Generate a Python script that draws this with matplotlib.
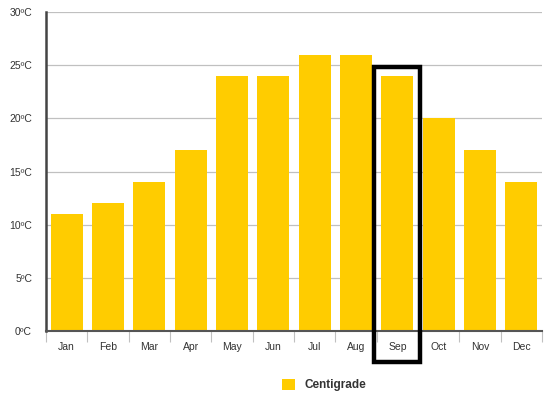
import matplotlib
matplotlib.use("Agg")
import matplotlib.pyplot as plt
import matplotlib.patches as mpatches
import numpy as np

# data
months = ['Jan', 'Feb', 'Mar', 'Apr', 'May', 'Jun', 'Jul', 'Aug', 'Sep', 'Oct', 'Nov', 'Dec']
temps = [11, 12, 14, 17, 24, 24, 26, 26, 24, 20, 17, 14]
yticks = [0, 5, 10, 15, 20, 25, 30]
highlight = 'Sep'

plt.rcParams['font.family'] = ['Liberation Sans', 'DejaVu Sans']

fig = plt.figure(figsize=(5.46, 3.96), dpi=100)
ax = fig.add_axes([46/546, 1-331/396, 496/546, 319/396])

x = np.arange(len(months))
ax.bar(x, temps, width=0.78, color='#FFCC00', zorder=2, label='Centigrade')

ax.set_xlim(-0.5, len(months)-0.5)
ax.set_ylim(0, 30)
ax.set_yticks(yticks)
ax.set_yticklabels([str(v)+'ºC' for v in yticks], fontsize=7.5, color='#333333')
ax.set_xticks(x)
ax.set_xticklabels(months, fontsize=7.5, color='#333333')
ax.set_xticks(np.arange(len(months)+1)-0.5, minor=True)
ax.tick_params(axis='x', which='major', length=0, pad=8)
ax.tick_params(axis='x', which='minor', length=8, color='#C0C0C0', width=0.8)
ax.tick_params(axis='y', length=0, pad=10)

ax.yaxis.grid(True, color='#C0C0C0', linewidth=0.9, zorder=0)
ax.set_axisbelow(True)
for s in ['top', 'right']:
    ax.spines[s].set_visible(False)
ax.spines['left'].set_color('#444444')
ax.spines['left'].set_linewidth(1.8)
ax.spines['bottom'].set_color('#555555')
ax.spines['bottom'].set_linewidth(1.5)

# highlight box around the chosen month
i = months.index(highlight)
box = mpatches.Rectangle((i-0.56, -2.9), 1.12, temps[i]+0.8+2.9, fill=False,
                         edgecolor='black', linewidth=3.2, clip_on=False, zorder=5)
ax.add_patch(box)

leg = fig.legend(loc='lower center', bbox_to_anchor=(0.594, -0.015), frameon=False,
                 prop={'size': 8.5, 'weight': 'bold'}, handlelength=1.1, handleheight=1.1)
for t in leg.get_texts():
    t.set_color('#333333')

fig.savefig('out.png', dpi=100)
